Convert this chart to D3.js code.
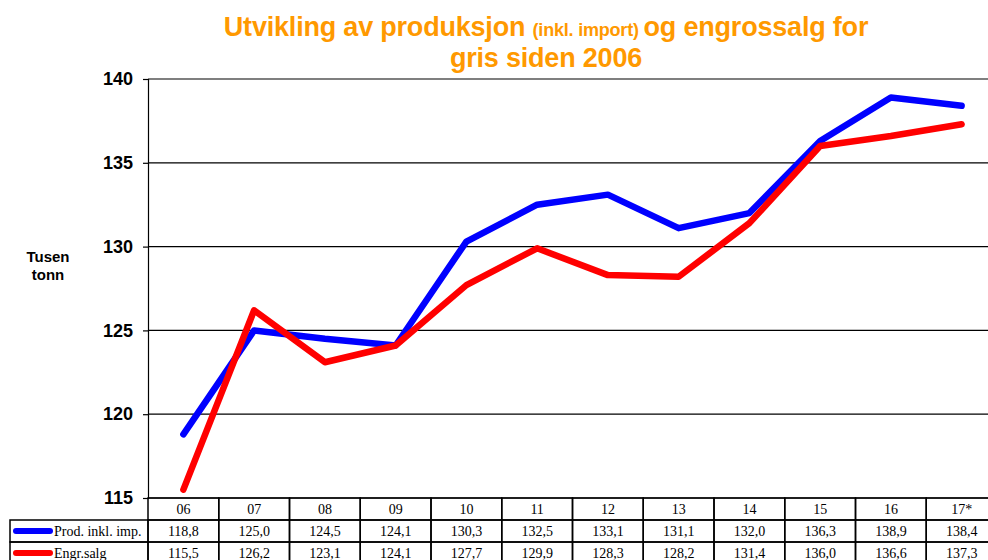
<!DOCTYPE html>
<html>
<head>
<meta charset="utf-8">
<script src="https://cdn.jsdelivr.net/npm/d3@7"></script>
<style>
  body { margin: 0; background: #fff; }
  svg { display: block; }
</style>
</head>
<body>
<div id="chart"></div>
<script>
// years (column headers) and the two series, thousand tonnes
var years = ["06", "07", "08", "09", "10", "11", "12", "13", "14", "15", "16", "17*"];
var prod = [118.8, 125.0, 124.5, 124.1, 130.3, 132.5, 133.1, 131.1, 132.0, 136.3, 138.9, 138.4];
var engros = [115.5, 126.2, 123.1, 124.1, 127.7, 129.9, 128.3, 128.2, 131.4, 136.0, 136.6, 137.3];
var seriesNames = ["Prod. inkl. imp.", "Engr.salg"];
var seriesColors = ["#0000ff", "#ff0000"];
var yTicks = [115, 120, 125, 130, 135, 140];

var W = 988, H = 560;
var margin = {top: 79, left: 148, right: -9, bottom: 62};
var plotW = W - margin.left - margin.right,
    plotH = H - margin.top - margin.bottom;

var svg = d3.select("#chart").append("svg")
  .attr("width", W)
  .attr("height", H);

// title
var title = svg.append("text")
  .attr("x", 546)
  .attr("y", 36)
  .attr("text-anchor", "middle")
  .style("font-family", "Liberation Sans, Arial, sans-serif")
  .style("font-weight", "bold")
  .style("letter-spacing", "-0.2px")
  .style("fill", "#ff9900");
title.append("tspan").style("font-size", "27px").text("Utvikling av produksjon ");
title.append("tspan").style("font-size", "18px").text("(inkl. import) ");
title.append("tspan").style("font-size", "27px").text(" og engrossalg for");
svg.append("text")
  .attr("x", 546)
  .attr("y", 67)
  .attr("text-anchor", "middle")
  .style("font-family", "Liberation Sans, Arial, sans-serif")
  .style("font-weight", "bold")
  .style("letter-spacing", "-0.2px")
  .style("font-size", "27px")
  .style("fill", "#ff9900")
  .text("gris siden 2006");

var g = svg.append("g")
  .attr("transform", "translate(" + margin.left + "," + margin.top + ")");

var x = d3.scaleBand().domain(years).range([0, plotW]);
var y = d3.scaleLinear().domain([115, 140]).range([plotH, 0]);

// gridlines
g.append("g")
  .selectAll("line")
  .data(yTicks)
  .enter().append("line")
    .attr("x1", 0)
    .attr("x2", plotW)
    .attr("y1", function(d) { return y(d); })
    .attr("y2", function(d) { return y(d); })
    .attr("stroke", "#000")
    .attr("stroke-width", 1.2);

// y axis
var yAxis = g.append("g")
  .call(d3.axisLeft(y).tickValues(yTicks).tickSize(5).tickPadding(10));
yAxis.select(".domain").attr("stroke", "#000").attr("stroke-width", 1.2);
yAxis.selectAll("line").attr("stroke", "#000").attr("stroke-width", 1.2);
yAxis.selectAll("text")
  .style("font-family", "Liberation Sans, Arial, sans-serif")
  .style("font-weight", "bold")
  .style("font-size", "18px")
  .attr("fill", "#000");

// y label
var ylab = svg.append("text")
  .attr("text-anchor", "middle")
  .style("font-family", "Liberation Sans, Arial, sans-serif")
  .style("font-weight", "bold")
  .style("font-size", "15px")
  .attr("fill", "#000");
ylab.append("tspan").attr("x", 48).attr("y", 262).text("Tusen");
ylab.append("tspan").attr("x", 48).attr("y", 280).text("tonn");

// lines
var line = d3.line()
  .x(function(d, i) { return x(years[i]) + x.bandwidth() / 2; })
  .y(function(d) { return y(d); });

[prod, engros].forEach(function(s, i) {
  g.append("path")
    .datum(s)
    .attr("fill", "none")
    .attr("stroke", seriesColors[i])
    .attr("stroke-width", 6.5)
    .attr("stroke-linecap", "round")
    .attr("stroke-linejoin", "round")
    .attr("d", line);
});

// data table
var rowH = 22;
var t = g.append("g").attr("transform", "translate(0," + plotH + ")");
var serif = "Liberation Serif, Times New Roman, serif";

// header row
t.selectAll(".hcell")
  .data(years)
  .enter().append("rect")
    .attr("x", function(d) { return x(d); })
    .attr("y", 0)
    .attr("width", x.bandwidth())
    .attr("height", rowH)
    .attr("fill", "none")
    .attr("stroke", "#000")
    .attr("stroke-width", 1.5);
t.selectAll(".htext")
  .data(years)
  .enter().append("text")
    .attr("x", function(d) { return x(d) + x.bandwidth() / 2; })
    .attr("y", rowH / 2 + 5)
    .attr("text-anchor", "middle")
    .style("font-family", serif)
    .style("font-size", "14px")
    .text(function(d) { return d; });

[prod, engros].forEach(function(s, r) {
  var ry = rowH * (r + 1);
  // legend cell
  t.append("rect")
    .attr("x", 10 - margin.left)
    .attr("y", ry)
    .attr("width", margin.left - 10)
    .attr("height", rowH)
    .attr("fill", "none")
    .attr("stroke", "#000")
    .attr("stroke-width", 1.5);
  t.append("line")
    .attr("x1", 16 - margin.left)
    .attr("x2", 50 - margin.left)
    .attr("y1", ry + rowH / 2)
    .attr("y2", ry + rowH / 2)
    .attr("stroke", seriesColors[r])
    .attr("stroke-width", 6)
    .attr("stroke-linecap", "round");
  t.append("text")
    .attr("x", 54 - margin.left)
    .attr("y", ry + rowH / 2 + 5)
    .style("font-family", serif)
    .style("font-size", "14px")
    .text(seriesNames[r]);

  t.selectAll(".cell" + r)
    .data(s)
    .enter().append("rect")
      .attr("x", function(d, i) { return x(years[i]); })
      .attr("y", ry)
      .attr("width", x.bandwidth())
      .attr("height", rowH)
      .attr("fill", "none")
      .attr("stroke", "#000")
      .attr("stroke-width", 1.5);
  t.selectAll(".val" + r)
    .data(s)
    .enter().append("text")
      .attr("x", function(d, i) { return x(years[i]) + x.bandwidth() / 2; })
      .attr("y", ry + rowH / 2 + 5)
      .attr("text-anchor", "middle")
      .style("font-family", serif)
      .style("font-size", "14px")
      .text(function(d) { return d3.format(".1f")(d).replace(".", ","); });
});
</script>
</body>
</html>
